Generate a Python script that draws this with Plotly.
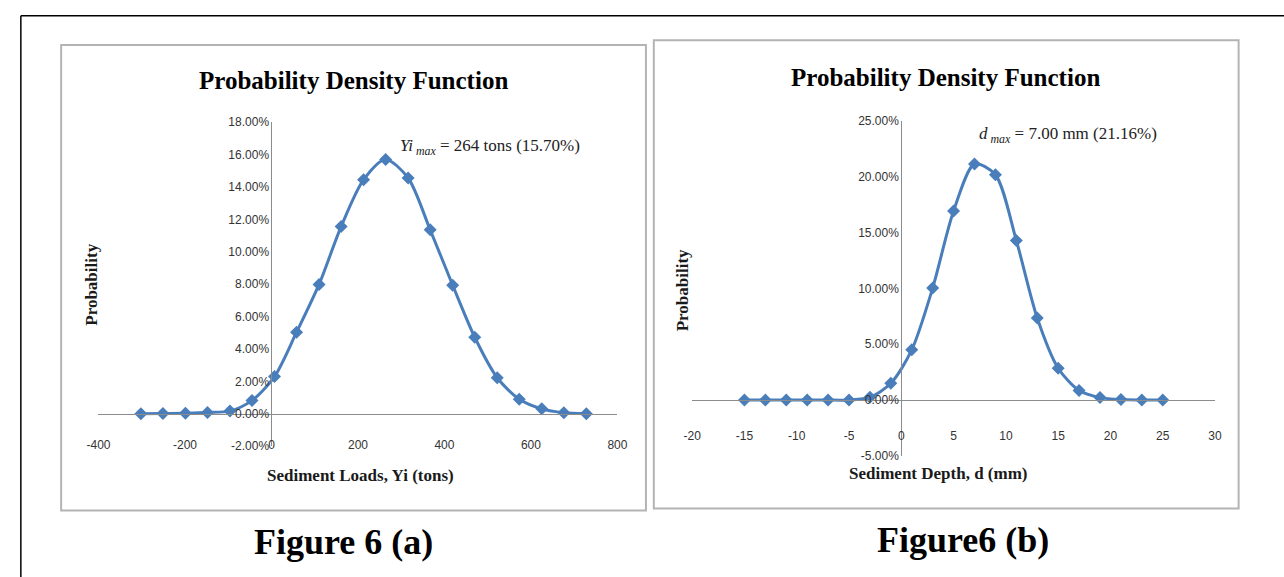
import plotly.graph_objects as go

W, H = 1284, 577

# ---------------- data ----------------
loads_x = [-302, -251, -199, -148, -96, -45, 7, 58, 110, 161, 213, 264,
           316, 367, 419, 470, 522, 573, 625, 676, 728]
loads_p = [0.0000, 0.0001, 0.0002, 0.0008, 0.0016, 0.0082, 0.0229, 0.0503,
           0.0798, 0.1155, 0.1445, 0.1570, 0.1455, 0.1135, 0.0793, 0.0472,
           0.0222, 0.0089, 0.0030, 0.0006, 0.0000]

depth_x = [-15, -13, -11, -9, -7, -5, -3, -1, 1, 3, 5, 7, 9, 11, 13, 15,
           17, 19, 21, 23, 25]
depth_p = [0.0000, 0.0000, 0.0000, 0.0000, 0.0000, 0.0001, 0.0025, 0.0150,
           0.0450, 0.1005, 0.1695, 0.2116, 0.2020, 0.1430, 0.0735, 0.0285,
           0.0085, 0.0022, 0.0004, 0.0001, 0.0000]

# tick labels
xt_a = [-400, -200, 0, 200, 400, 600, 800]
xl_a = ["-400", "-200", "0", "200", "400", "600", "800"]
yt_a = [-0.02, 0.0, 0.02, 0.04, 0.06, 0.08, 0.10, 0.12, 0.14, 0.16, 0.18]
yl_a = ["-2.00%", "0.00%", "2.00%", "4.00%", "6.00%", "8.00%", "10.00%",
        "12.00%", "14.00%", "16.00%", "18.00%"]
xt_b = [-20, -15, -10, -5, 0, 5, 10, 15, 20, 25, 30]
xl_b = ["-20", "-15", "-10", "-5", "0", "5", "10", "15", "20", "25", "30"]
yt_b = [-0.05, 0.0, 0.05, 0.10, 0.15, 0.20, 0.25]
yl_b = ["-5.00%", "0.00%", "5.00%", "10.00%", "15.00%", "20.00%", "25.00%"]

titles = ["Probability Density Function", "Probability Density Function"]
x_titles = ["Sediment Loads, Yi (tons)", "Sediment Depth, d (mm)"]
y_title = "Probability"
captions = ["Figure 6 (a)", "Figure6 (b)"]
notes = ["<i>Yi</i><sub><i> max</i></sub> = 264 tons (15.70%)",
         "<i>d</i><sub><i> max</i></sub> = 7.00 mm (21.16%)"]

xr_a, yr_a = [-400, 800], [-0.02, 0.18]
xr_b, yr_b = [-20, 30], [-0.05, 0.25]

BLUE = "#4A7EBB"
AXC = "#8C8C8C"
SERIF = "Liberation Serif, Times New Roman, serif"
SANS = "Liberation Sans, Arial, sans-serif"


def px(x):
    return x / W


def py(y):
    return 1 - y / H


# plot-area pixel boxes (left, right, top, bottom)
box_a = (88, 616, 118, 450)
box_b = (692, 1224, 117, 460)

fig = go.Figure()
fig.add_trace(go.Scatter(x=loads_x, y=loads_p, mode="lines+markers",
                         line=dict(color=BLUE, width=3, shape="spline", smoothing=0.8),
                         marker=dict(symbol="diamond", size=10, color=BLUE),
                         xaxis="x", yaxis="y", showlegend=False))
fig.add_trace(go.Scatter(x=depth_x, y=depth_p, mode="lines+markers",
                         line=dict(color=BLUE, width=3, shape="spline", smoothing=0.8),
                         marker=dict(symbol="diamond", size=10, color=BLUE),
                         xaxis="x2", yaxis="y2", showlegend=False))


def axes(box, xr, yr, xt, xl, yt, yl, standoff):
    l, r, t, b = box
    xd = [px(l), px(r)]
    yd = [py(b), py(t)]
    ypos = yd[0] + (0 - yr[0]) / (yr[1] - yr[0]) * (yd[1] - yd[0])
    xpos = xd[0] + (0 - xr[0]) / (xr[1] - xr[0]) * (xd[1] - xd[0])
    xa = dict(domain=xd, range=xr, tickmode="array", tickvals=xt, ticktext=xl,
              showgrid=False, zeroline=False, showline=True, linecolor=AXC,
              linewidth=1, anchor="free", position=ypos, ticks="",
              ticklabelstandoff=standoff,
              tickfont=dict(family=SANS, size=12, color="#333333"))
    ya = dict(domain=yd, range=yr, tickmode="array", tickvals=yt, ticktext=yl,
              showgrid=False, zeroline=False, showline=True, linecolor=AXC,
              linewidth=1, anchor="free", position=xpos, ticks="",
              tickfont=dict(family=SANS, size=12, color="#333333"))
    return xa, ya


xa, ya = axes(box_a, xr_a, yr_a, xt_a, xl_a, yt_a, yl_a, 20)
xb, yb = axes(box_b, xr_b, yr_b, xt_b, xl_b, yt_b, yl_b, 25)

shapes = [
    # outer frame
    dict(type="line", xref="paper", yref="paper", x0=px(9), x1=px(1300),
         y0=py(9), y1=py(9), line=dict(color="black", width=1.5)),
    dict(type="line", xref="paper", yref="paper", x0=px(9), x1=px(9),
         y0=py(9), y1=py(600), line=dict(color="black", width=1.5)),
    # panel boxes
    dict(type="rect", xref="paper", yref="paper", x0=px(50), x1=px(645),
         y0=py(516), y1=py(39), line=dict(color="#B4B4B4", width=2)),
    dict(type="rect", xref="paper", yref="paper", x0=px(653), x1=px(1248),
         y0=py(514), y1=py(34), line=dict(color="#B4B4B4", width=2)),
]

ann = []
# titles
for cx, cy, t in [(347, 75, titles[0]), (950, 72, titles[1])]:
    ann.append(dict(x=px(cx), y=py(cy), xref="paper", yref="paper", text=f"<b>{t}</b>",
                    showarrow=False, font=dict(family=SERIF, size=25, color="black"),
                    xanchor="center", yanchor="middle"))
# x titles
for cx, cy, t in [(355, 480, x_titles[0]), (943, 478, x_titles[1])]:
    ann.append(dict(x=px(cx), y=py(cy), xref="paper", yref="paper", text=f"<b>{t}</b>",
                    showarrow=False, font=dict(family=SERIF, size=17, color="#1a1a1a"),
                    xanchor="center", yanchor="middle"))
# y titles
for cx, cy in [(80, 285), (683, 290)]:
    ann.append(dict(x=px(cx), y=py(cy), xref="paper", yref="paper", text=f"<b>{y_title}</b>",
                    showarrow=False, textangle=-90,
                    font=dict(family=SERIF, size=17, color="#1a1a1a"),
                    xanchor="center", yanchor="middle"))
# notes
for rx, cy, t in [(580, 143, notes[0]), (1167, 131, notes[1])]:
    ann.append(dict(x=px(rx), y=py(cy), xref="paper", yref="paper", text=t,
                    showarrow=False, font=dict(family=SERIF, size=17, color="#222222"),
                    xanchor="right", yanchor="middle"))
# captions
for cx, cy, t in [(337, 548, captions[0]), (968, 546, captions[1])]:
    ann.append(dict(x=px(cx), y=py(cy), xref="paper", yref="paper", text=f"<b>{t}</b>",
                    showarrow=False, font=dict(family=SERIF, size=36, color="black"),
                    xanchor="center", yanchor="middle"))

fig.update_layout(
    width=W, height=H, margin=dict(l=0, r=0, t=0, b=0),
    paper_bgcolor="white", plot_bgcolor="rgba(0,0,0,0)",
    xaxis=xa, yaxis=ya, xaxis2=xb, yaxis2=yb,
    shapes=shapes, annotations=ann,
)

fig.write_html("out.html", config={"displayModeBar": False},
               post_script="document.body.style.margin='0';document.body.style.overflow='hidden';")
